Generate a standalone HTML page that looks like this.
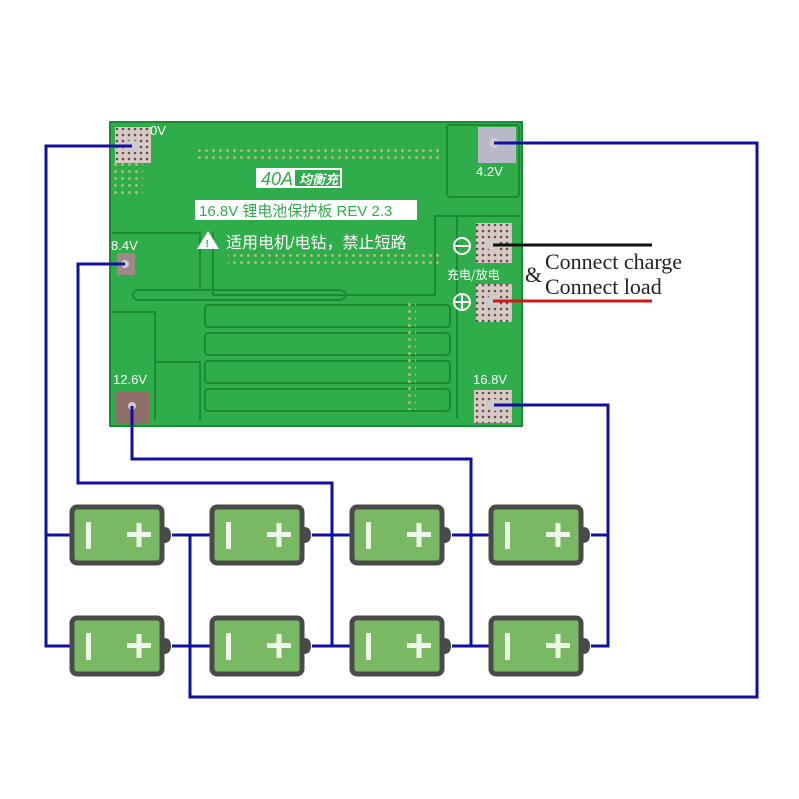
<!DOCTYPE html>
<html><head><meta charset="utf-8"><style>
html,body{margin:0;padding:0;background:#fff;width:799px;height:799px;overflow:hidden}
</style></head><body>
<svg width="799" height="799" viewBox="0 0 799 799" xmlns="http://www.w3.org/2000/svg">
<defs>
<g id="bat">
<rect x="2" y="2" width="90" height="56" rx="5" fill="#79b964" stroke="#4a4a4a" stroke-width="5"/>
<path d="M94 22 q7 0 7 8 q0 8 -7 8 z" fill="#4a4a4a"/>
<rect x="16" y="17" width="5" height="27" fill="#eef8e8"/>
<rect x="57" y="27" width="24" height="5" fill="#eef8e8"/>
<rect x="66.5" y="18" width="5" height="24" fill="#eef8e8"/>
</g>
<pattern id="dots" width="7" height="7" patternUnits="userSpaceOnUse"><circle cx="3.5" cy="3.5" r="1.4" fill="#bdbd7a"/></pattern>
<pattern id="pdots" width="6" height="6" patternUnits="userSpaceOnUse"><rect width="6" height="6" fill="#d9c8c4"/><circle cx="3" cy="3" r="1.3" fill="#555"/></pattern>
</defs>
<rect x="110" y="122" width="412" height="304" fill="#30ad4b"/>
<rect x="110" y="122" width="412" height="304" fill="none" stroke="#1d8a35" stroke-width="2"/>
<g fill="none" stroke="#1a8a33" stroke-width="2">
<rect x="447" y="125" width="72" height="72" rx="3"/>
<path d="M112 233 H200 V290"/>
<path d="M213 232 V295 H435 V216 H520"/>
<rect x="133" y="290" width="212" height="10" rx="5"/>
<path d="M112 312 H155 V420"/>
<path d="M155 362 H200 V420"/>
<rect x="205" y="305" width="245" height="22" rx="3"/>
<rect x="205" y="333" width="245" height="22" rx="3"/>
<rect x="205" y="361" width="245" height="22" rx="3"/>
<rect x="205" y="389" width="245" height="22" rx="3"/>
<path d="M457 216 V418"/>
</g>
<rect x="195" y="147" width="248" height="14" fill="url(#dots)"/>
<rect x="228" y="253" width="215" height="12" fill="url(#dots)"/>
<rect x="113" y="160" width="30" height="38" fill="url(#dots)"/>
<rect x="404" y="300" width="12" height="110" fill="url(#dots)"/>
<rect x="256" y="168" width="86" height="20" fill="#fff"/>
<text x="261" y="185" font-family="Liberation Sans,sans-serif" font-size="18" font-style="italic" fill="#30ad4b">40A</text>
<rect x="295" y="170" width="45" height="16" fill="#30ad4b"/>
<text x="299" y="184" font-family="'Noto Sans CJK SC',sans-serif" font-size="13" font-weight="bold" font-style="italic" fill="#fff">均衡充</text>
<rect x="195" y="200" width="222" height="20" fill="#fff"/>
<text x="199" y="216" font-family="'Liberation Sans','Noto Sans CJK SC',sans-serif" font-size="15" fill="#30ad4b">16.8V 锂电池保护板 REV 2.3</text>
<path d="M208 231 L219 249 H197 Z" fill="#fff"/>
<text x="205.5" y="247" font-family="Liberation Sans,sans-serif" font-size="10" font-weight="bold" fill="#30ad4b">!</text>
<text x="226" y="248" font-family="'Liberation Sans','Noto Sans CJK SC',sans-serif" font-size="16" fill="#fff">适用电机/电钻，禁止短路</text>
<g font-family="Liberation Sans,sans-serif" font-size="13" fill="#fff">
<text x="150" y="135">0V</text>
<text x="476" y="176">4.2V</text>
<text x="111" y="250">8.4V</text>
<text x="113" y="384">12.6V</text>
<text x="473" y="384">16.8V</text>
</g>
<text x="447" y="279" font-family="'Noto Sans CJK SC',sans-serif" font-size="12" fill="#fff">充电/放电</text>
<circle cx="462" cy="246" r="8" fill="none" stroke="#fff" stroke-width="2"/><path d="M455 246 H469" stroke="#fff" stroke-width="2"/>
<circle cx="462" cy="302" r="8" fill="none" stroke="#fff" stroke-width="2"/><path d="M455 302 H469 M462 295 V309" stroke="#fff" stroke-width="2"/>
<rect x="115" y="127" width="36" height="36" fill="url(#pdots)"/>
<rect x="478" y="127" width="38" height="36" fill="#b8b8c8"/>
<rect x="117" y="253" width="18" height="22" fill="#a08888"/>
<rect x="115" y="392" width="34" height="32" fill="#8f6e6a"/>
<rect x="476" y="223" width="36" height="40" fill="url(#pdots)"/>
<rect x="476" y="284" width="36" height="38" fill="url(#pdots)"/>
<rect x="474" y="390" width="38" height="33" fill="url(#pdots)"/>
<g fill="#ccc"><circle cx="132" cy="146" r="6"/><circle cx="494" cy="143" r="5"/><circle cx="125" cy="264" r="4"/><circle cx="132" cy="406" r="4"/><circle cx="493" cy="245" r="6"/><circle cx="493" cy="301" r="6"/><circle cx="494" cy="405" r="6"/></g>
<g fill="none" stroke="#1010a0" stroke-width="3">
<path d="M132 146 H46 V646 H71 M46 535 H71"/>
<path d="M494 143 H757 V697 H190 V535 M172 535 H211 M172 646 H211"/>
<path d="M125 264 H78 V483 H332 V646 M312 535 H351 M312 646 H351"/>
<path d="M132 406 V459 H471 V646 M452 535 H490 M452 646 H490"/>
<path d="M494 405 H608 V646 H591 M591 535 H608"/>
</g>
<path d="M493 245 H652" stroke="#111" stroke-width="3"/>
<path d="M493 301 H652" stroke="#d01818" stroke-width="3"/>
<g font-family="'Liberation Serif',serif" font-size="22" fill="#222">
<text x="525" y="282">&amp;</text>
<text x="545" y="269">Connect charge</text>
<text x="545" y="294">Connect load</text>
</g>
<use href="#bat" x="70" y="505"/><use href="#bat" x="210" y="505"/><use href="#bat" x="350" y="505"/><use href="#bat" x="489" y="505"/>
<use href="#bat" x="70" y="616"/><use href="#bat" x="210" y="616"/><use href="#bat" x="350" y="616"/><use href="#bat" x="489" y="616"/>
</svg>
</body></html>
